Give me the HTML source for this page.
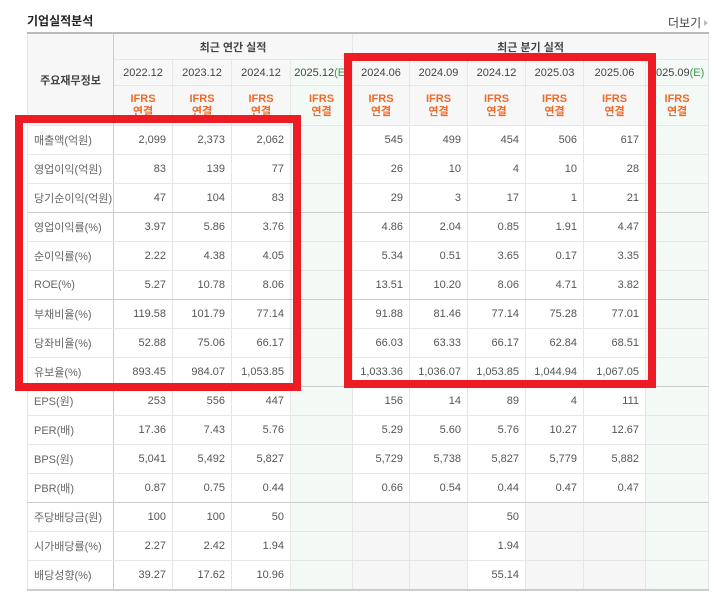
<!DOCTYPE html>
<html><head><meta charset="utf-8"><style>
body{margin:0;width:714px;height:592px;background:#fff;font-family:"Liberation Sans","Noto Sans CJK KR",sans-serif;position:relative;overflow:hidden}
.t{position:absolute;left:27px;top:12px;font-size:12px;font-weight:bold;color:#222}
.more{position:absolute;left:668px;top:14px;font-size:12px;color:#444}
.more:after{content:"";display:inline-block;border-left:4px solid #bbb;border-top:3px solid transparent;border-bottom:3px solid transparent;margin-left:3px;vertical-align:1px}
table{position:absolute;left:27px;top:32px;border-collapse:collapse;table-layout:fixed;width:681px;font-size:11px;color:#555}
td,th{border:1px solid #e6e6e6;padding:0;overflow:hidden;white-space:nowrap}
table{border-top:2px solid #bbb;border-bottom:2px solid #ccc}
th{background:#f7f7f7;font-weight:normal;color:#444}
.h1 th{height:25px;font-weight:bold}
.h2 th{height:25px}
.h3 th{height:39px;color:#f06a2a;font-weight:bold;line-height:13px}
td{height:28px;text-align:right;padding-right:6px}
td.l{text-align:left;padding-left:6px;padding-right:0;color:#666;border-right:1px solid #ccc}
th.l{border-right:1px solid #ccc}
.g{background:#f3f9f4}
.dv{border-left:1px solid #ccc}
.gr{background:#f6f6f6}
tr.b td{border-bottom:1px solid #ccc}
.E{color:#3a9a4a}
.box{position:absolute;border:8px solid #ed1c24;box-sizing:border-box}
</style></head><body>
<div class="t">기업실적분석</div>
<div class="more">더보기</div>
<table>
<colgroup><col style="width:86px"><col style="width:59px"><col style="width:59px"><col style="width:59px"><col style="width:62px"><col style="width:57px"><col style="width:58px"><col style="width:58px"><col style="width:58px"><col style="width:62px"><col style="width:63px"></colgroup>
<tr class="h1"><th class="l" rowspan="3">주요재무정보</th><th colspan="4">최근 연간 실적</th><th colspan="6" class="dv">최근 분기 실적</th></tr>
<tr class="h2"><th>2022.12</th><th>2023.12</th><th>2024.12</th><th class="g">2025.12<span class="E">(E)</span></th><th class="dv">2024.06</th><th>2024.09</th><th>2024.12</th><th>2025.03</th><th>2025.06</th><th class="g">2025.09<span class="E">(E)</span></th></tr>
<tr class="h3"><th>IFRS<br>연결</th><th>IFRS<br>연결</th><th>IFRS<br>연결</th><th class="g">IFRS<br>연결</th><th class="dv">IFRS<br>연결</th><th>IFRS<br>연결</th><th>IFRS<br>연결</th><th>IFRS<br>연결</th><th>IFRS<br>연결</th><th class="g">IFRS<br>연결</th></tr>
<tr><td class="l">매출액(억원)</td><td>2,099</td><td>2,373</td><td>2,062</td><td class="g"></td><td class="dv">545</td><td>499</td><td>454</td><td>506</td><td>617</td><td class="g"></td></tr>
<tr><td class="l">영업이익(억원)</td><td>83</td><td>139</td><td>77</td><td class="g"></td><td class="dv">26</td><td>10</td><td>4</td><td>10</td><td>28</td><td class="g"></td></tr>
<tr class="b"><td class="l">당기순이익(억원)</td><td>47</td><td>104</td><td>83</td><td class="g"></td><td class="dv">29</td><td>3</td><td>17</td><td>1</td><td>21</td><td class="g"></td></tr>
<tr><td class="l">영업이익률(%)</td><td>3.97</td><td>5.86</td><td>3.76</td><td class="g"></td><td class="dv">4.86</td><td>2.04</td><td>0.85</td><td>1.91</td><td>4.47</td><td class="g"></td></tr>
<tr><td class="l">순이익률(%)</td><td>2.22</td><td>4.38</td><td>4.05</td><td class="g"></td><td class="dv">5.34</td><td>0.51</td><td>3.65</td><td>0.17</td><td>3.35</td><td class="g"></td></tr>
<tr class="b"><td class="l">ROE(%)</td><td>5.27</td><td>10.78</td><td>8.06</td><td class="g"></td><td class="dv">13.51</td><td>10.20</td><td>8.06</td><td>4.71</td><td>3.82</td><td class="g"></td></tr>
<tr><td class="l">부채비율(%)</td><td>119.58</td><td>101.79</td><td>77.14</td><td class="g"></td><td class="dv">91.88</td><td>81.46</td><td>77.14</td><td>75.28</td><td>77.01</td><td class="g"></td></tr>
<tr><td class="l">당좌비율(%)</td><td>52.88</td><td>75.06</td><td>66.17</td><td class="g"></td><td class="dv">66.03</td><td>63.33</td><td>66.17</td><td>62.84</td><td>68.51</td><td class="g"></td></tr>
<tr class="b"><td class="l">유보율(%)</td><td>893.45</td><td>984.07</td><td>1,053.85</td><td class="g"></td><td class="dv">1,033.36</td><td>1,036.07</td><td>1,053.85</td><td>1,044.94</td><td>1,067.05</td><td class="g"></td></tr>
<tr><td class="l">EPS(원)</td><td>253</td><td>556</td><td>447</td><td class="g"></td><td class="dv">156</td><td>14</td><td>89</td><td>4</td><td>111</td><td class="g"></td></tr>
<tr><td class="l">PER(배)</td><td>17.36</td><td>7.43</td><td>5.76</td><td class="g"></td><td class="dv">5.29</td><td>5.60</td><td>5.76</td><td>10.27</td><td>12.67</td><td class="g"></td></tr>
<tr><td class="l">BPS(원)</td><td>5,041</td><td>5,492</td><td>5,827</td><td class="g"></td><td class="dv">5,729</td><td>5,738</td><td>5,827</td><td>5,779</td><td>5,882</td><td class="g"></td></tr>
<tr class="b"><td class="l">PBR(배)</td><td>0.87</td><td>0.75</td><td>0.44</td><td class="g"></td><td class="dv">0.66</td><td>0.54</td><td>0.44</td><td>0.47</td><td>0.47</td><td class="g"></td></tr>
<tr><td class="l">주당배당금(원)</td><td>100</td><td>100</td><td>50</td><td class="g"></td><td class="dv gr"></td><td class="gr"></td><td>50</td><td class="gr"></td><td class="gr"></td><td class="g"></td></tr>
<tr><td class="l">시가배당률(%)</td><td>2.27</td><td>2.42</td><td>1.94</td><td class="g"></td><td class="dv gr"></td><td class="gr"></td><td>1.94</td><td class="gr"></td><td class="gr"></td><td class="g"></td></tr>
<tr><td class="l">배당성향(%)</td><td>39.27</td><td>17.62</td><td>10.96</td><td class="g"></td><td class="dv gr"></td><td class="gr"></td><td>55.14</td><td class="gr"></td><td class="gr"></td><td class="g"></td></tr>
</table>
<div class="box" style="left:15px;top:115px;width:286px;height:276px"></div>
<div class="box" style="left:344px;top:53px;width:312px;height:335px"></div>
</body></html>
